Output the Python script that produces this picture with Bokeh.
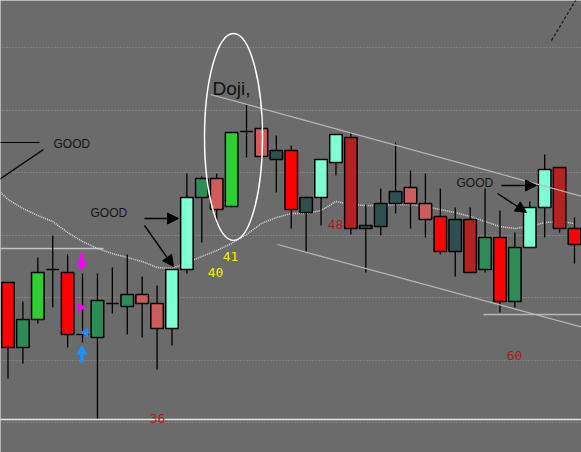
from bokeh.plotting import figure
from bokeh.models import Range1d, FixedTicker, Arrow, NormalHead, Label, ColumnDataSource
from bokeh.embed import file_html
from bokeh.resources import INLINE

BG = "#6b6b6b"

# ---- candle data (index, OHLC, colour) ----
idx = list(range(39))
opens = [122.4, 112.0, 116.48, 124.48, 124.0, 114.08, 113.6, 119.04, 118.56, 120.48,
         119.04, 115.04, 124.48, 136.0, 139.04, 134.56, 146.56, 147.04, 142.08, 143.52,
         133.6, 136.0, 141.6, 145.6, 131.04, 131.36, 135.04, 137.6, 135.04, 132.96,
         127.36, 132.48, 124.48, 129.6, 119.36, 128.0, 134.4, 140.8, 131.04]
highs = [122.4, 119.36, 126.4, 129.92, 126.88, 123.84, 123.84, 124.8, 126.88, 123.36,
         121.92, 124.48, 139.84, 139.36, 139.84, 146.4, 150.88, 149.44, 145.92, 144.32,
         136.0, 142.08, 146.08, 146.4, 134.88, 137.44, 144.8, 140.32, 139.84, 137.44,
         134.4, 134.4, 137.44, 133.92, 130.4, 135.36, 142.88, 140.8, 132.8]
lows = [107.04, 109.44, 115.84, 118.4, 112.0, 112.8, 100.64, 117.44, 114.08, 113.6,
        108.48, 112.32, 123.84, 128.8, 131.84, 134.56, 142.4, 140.8, 136.8, 131.04,
        127.36, 131.52, 139.52, 130.08, 124.0, 129.92, 133.44, 131.04, 129.6, 126.88,
        123.36, 124.0, 124.0, 117.6, 118.4, 128.0, 129.6, 130.4, 125.44]
closes = [112.0, 116.48, 124.0, 124.48, 114.08, 114.08, 119.52, 119.04, 120.48, 119.04,
          115.04, 124.48, 136.0, 139.04, 134.08, 146.4, 146.56, 142.56, 143.52, 134.08,
          136.0, 142.08, 146.08, 131.04, 131.52, 135.04, 136.96, 135.04, 132.48, 127.36,
          132.48, 124.0, 129.6, 119.36, 128.0, 134.4, 140.48, 131.04, 128.48]
colors = ["#ff0000", "#2e8b57", "#32cd32", "#000000", "#ff0000", "#000000", "#2e8b57", "#000000",
          "#2e8b57", "#cd5c5c", "#cd5c5c", "#7fffd4", "#7fffd4", "#2e8b57", "#cd5c5c", "#32cd32",
          "#000000", "#cd5c5c", "#2f4f4f", "#ff0000", "#2f4f4f", "#7fffd4", "#7fffd4", "#b22222",
          "#2f4f4f", "#2f4f4f", "#2f4f4f", "#cd5c5c", "#cd5c5c", "#ff0000", "#2f4f4f", "#b22222",
          "#2e8b57", "#ff0000", "#2e8b57", "#7fffd4", "#7fffd4", "#b22222", "#ff0000"]

# moving average
ma_x = [-0.5] + list(range(39)) + [38.5]
ma_y = [136.8, 135.68, 134.24, 133.12, 132.16, 130.4, 128.96, 127.84, 127.04, 126.4,
        125.76, 124.8, 124.64, 125.6, 126.56, 127.52, 128.64, 130.08, 131.84, 132.8,
        133.44, 133.44, 133.92, 135.36, 134.88, 134.72, 134.72, 134.88, 134.88, 134.56,
        134.08, 133.6, 132.96, 132.16, 131.36, 131.04, 131.36, 132.0, 132.16, 131.84]

grid_levels = [100, 110, 120, 130, 140, 150, 160]

# channel trend lines
upper_x = [13.584, 38.6]
upper_y = [152.48, 136.1]
lower_x = [18.078, 38.6]
lower_y = [128.48, 115.2]

# horizontal levels: (x0, x1, y, colour)
levels_x0 = [-1.0, -1.0, 31.896]
levels_x1 = [6.406, 39.0, 39.0]
levels_y = [127.84, 100.48, 117.28]
levels_c = ["#c4c4c4", "#e6e6e6", "#b8b8b8"]

# signal markers around candle 5
sig_x = 4.95
mag_shaft = (127.04, 125.7)
mag_down_y = 125.3
mag_right = (4.86, 118.4)
blue_left = (5.2, 114.4)
blue_up_y = 111.4
blue_shaft = (110.9, 109.6)

# text labels
good_x = [3.052, 5.534, 30.085]
good_y = [144.64, 133.6, 138.4]
doji_xy = (13.718, 153.44)
num_text = ["40", "41", "48", "36", "60"]
num_x = [13.919, 14.925, 21.969, 10.028, 33.976]
num_y = [124.0, 126.56, 131.68, 100.64, 110.72]
num_col = ["#f0f000", "#f0f000", "#a81e1e", "#a81e1e", "#a81e1e"]

# arrows (x0, y0, x1, y1)
arrows = [(9.156, 132.64, 11.437, 132.64),
          (9.156, 131.52, 11.101, 124.96),
          (33.103, 137.92, 35.451, 137.92),
          (32.835, 136.64, 34.78, 133.6)]

# ---- figure ----
p = figure(width=581, height=452, output_backend="svg", toolbar_location=None,
           x_range=Range1d(-0.503, 38.47), y_range=Range1d(95.2, 167.52),
           background_fill_color=BG, border_fill_color=BG, min_border=0,
           outline_line_color=None)
p.xaxis.visible = False
p.yaxis.visible = False
p.xgrid.visible = False
p.ygrid.ticker = FixedTicker(ticks=grid_levels)
p.ygrid.grid_line_color = "#9c9c9c"
p.ygrid.grid_line_dash = "1 2"
p.ygrid.grid_line_width = 1

# horizontal levels
p.segment(x0=levels_x0, y0=levels_y, x1=levels_x1, y1=levels_y, line_color=levels_c, line_width=1.3)

# moving average
p.line(ma_x, ma_y, line_color="#dcdcdc", line_width=1.5, line_dash="1 1")

# candles
tops = [max(o, c) for o, c in zip(opens, closes)]
bots = [min(o, c) for o, c in zip(opens, closes)]
src = ColumnDataSource(dict(x=idx, h=highs, l=lows, t=tops, b=bots, c=colors))
p.segment(x0="x", y0="h", x1="x", y1="l", source=src, line_color="black", line_width=1.3)
p.vbar(x="x", width=0.84, top="t", bottom="b", source=src, fill_color="c",
       line_color="black", line_width=1.5)

# trend lines
p.line(upper_x, upper_y, line_color="#b8b8b8", line_width=1.2)
p.line(lower_x, lower_y, line_color="#b8b8b8", line_width=1.2)

# ellipse around doji
p.ellipse(x=[15.127], y=[145.68], width=[3.89], height=[33.12], fill_color=None,
          line_color="white", line_width=1.5)

# top-left lines
p.segment(x0=[-0.6, 2.381], y0=[144.8, 143.68], x1=[2.113, -1.174], y1=[144.8, 137.92],
          line_color="black", line_width=1.2)
# top-right dashed line
p.line([36.457, 38.27], [161.12, 168.32], line_color="#202020", line_width=1.3, line_dash="3 2")

# signal markers
p.segment(x0=[sig_x], y0=[mag_shaft[0]], x1=[sig_x], y1=[mag_shaft[1]], line_color="#ff00ff", line_width=3.5)
p.scatter([sig_x], [mag_down_y], marker="inverted_triangle", size=10, color="#ff00ff")
p.scatter([mag_right[0]], [mag_right[1]], marker="triangle", angle=-1.5708, size=8, color="#ff00ff")
p.scatter([blue_left[0]], [blue_left[1]], marker="triangle", angle=1.5708, size=8, color="#1e90ff")
p.segment(x0=[sig_x], y0=[blue_shaft[0]], x1=[sig_x], y1=[blue_shaft[1]], line_color="#1e90ff", line_width=3.5)
p.scatter([sig_x], [blue_up_y], marker="triangle", size=10, color="#1e90ff")

# arrows
for (x0, y0, x1, y1) in arrows:
    p.add_layout(Arrow(end=NormalHead(size=11, fill_color="black", line_color="black"),
                       x_start=x0, y_start=y0, x_end=x1, y_end=y1,
                       line_color="black", line_width=1.4))

# texts
for gx, gy in zip(good_x, good_y):
    p.add_layout(Label(x=gx, y=gy, text="GOOD", text_font="Liberation Sans", text_font_size="12px",
                       text_color="#151515", text_align="left", text_baseline="alphabetic"))
p.add_layout(Label(x=doji_xy[0], y=doji_xy[1], text="Doji,", text_font="Liberation Sans", text_font_size="19px",
                   text_color="#111111", text_align="left", text_baseline="alphabetic"))
for t, nx, ny, nc in zip(num_text, num_x, num_y, num_col):
    p.add_layout(Label(x=nx, y=ny, text=t, text_font="DejaVu Sans Mono", text_font_size="13px",
                       text_color=nc, text_align="center", text_baseline="middle"))

open("out.html", "w").write(file_html(p, INLINE))
